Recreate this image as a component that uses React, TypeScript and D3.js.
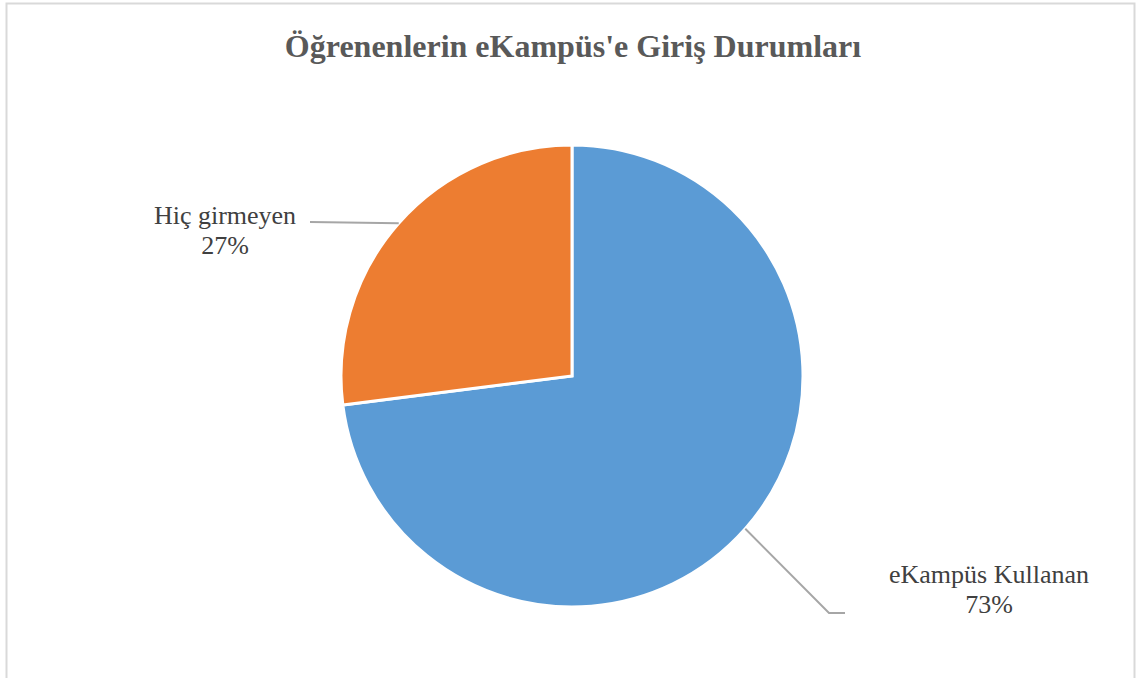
import React from 'react';
import * as d3 from 'd3';

const categories = ['eKampüs Kullanan', 'Hiç girmeyen'];
const values = [73, 27];
const colors = ['#5B9BD5', '#ED7D31'];

const width = 1140;
const height = 678;
const cx = 572;
const cy = 376;
const radius = 231;

// label layout (text centre, baselines, leader elbow)
const labelLayout = [
  { x: 989, y: 583, elbow: [829, 613], end: [845, 613] },
  { x: 225, y: 224, elbow: [330, 221], end: [310, 222] },
];

export default function App() {
  const total = d3.sum(values);
  const pie = d3.pie<number>().sort(null).value(d => d);
  const arcs = pie(values);
  const arc = d3.arc<d3.PieArcDatum<number>>().innerRadius(0).outerRadius(radius);
  const edge = d3.arc<d3.PieArcDatum<number>>().innerRadius(radius).outerRadius(radius);
  const fmt = d3.format('.0%');
  const line = d3.line();

  return (
    <svg width={width} height={height} style={{ position: 'absolute', left: 0, top: 0, display: 'block' }}>
      <rect x={0} y={0} width={width} height={height} fill="#fff" />
      <rect x={6.5} y={3.5} width={1128} height={700} fill="#fff" stroke="#D9D9D9" strokeWidth={2} />
      <text x={573} y={57} textAnchor="middle" fontFamily="'Liberation Serif', 'Times New Roman', serif"
        fontWeight="bold" fontSize={32} fill="#595959">
        Öğrenenlerin eKampüs'e Giriş Durumları
      </text>
      <g transform={`translate(${cx},${cy})`}>
        {arcs.map((a, i) => (
          <path key={i} d={arc(a) || ''} fill={colors[i]} stroke="#fff" strokeWidth={3} strokeLinejoin="miter" />
        ))}
      </g>
      {arcs.map((a, i) => {
        const [sx, sy] = edge.centroid(a);
        const l = labelLayout[i];
        const pts: [number, number][] = i === 0
          ? [[cx + sx, cy + sy], l.elbow as [number, number], l.end as [number, number]]
          : [[cx + sx, cy + sy], l.end as [number, number]];
        return (
          <g key={i}>
            <path d={line(pts) || ''} fill="none" stroke="#A6A6A6" strokeWidth={2} />
            <text textAnchor="middle" fontFamily="'Liberation Serif', 'Times New Roman', serif"
              fontSize={26} fill="#404040">
              <tspan x={l.x} y={l.y}>{categories[i]}</tspan>
              <tspan x={l.x} y={l.y + 30}>{fmt(values[i] / total)}</tspan>
            </text>
          </g>
        );
      })}
    </svg>
  );
}
